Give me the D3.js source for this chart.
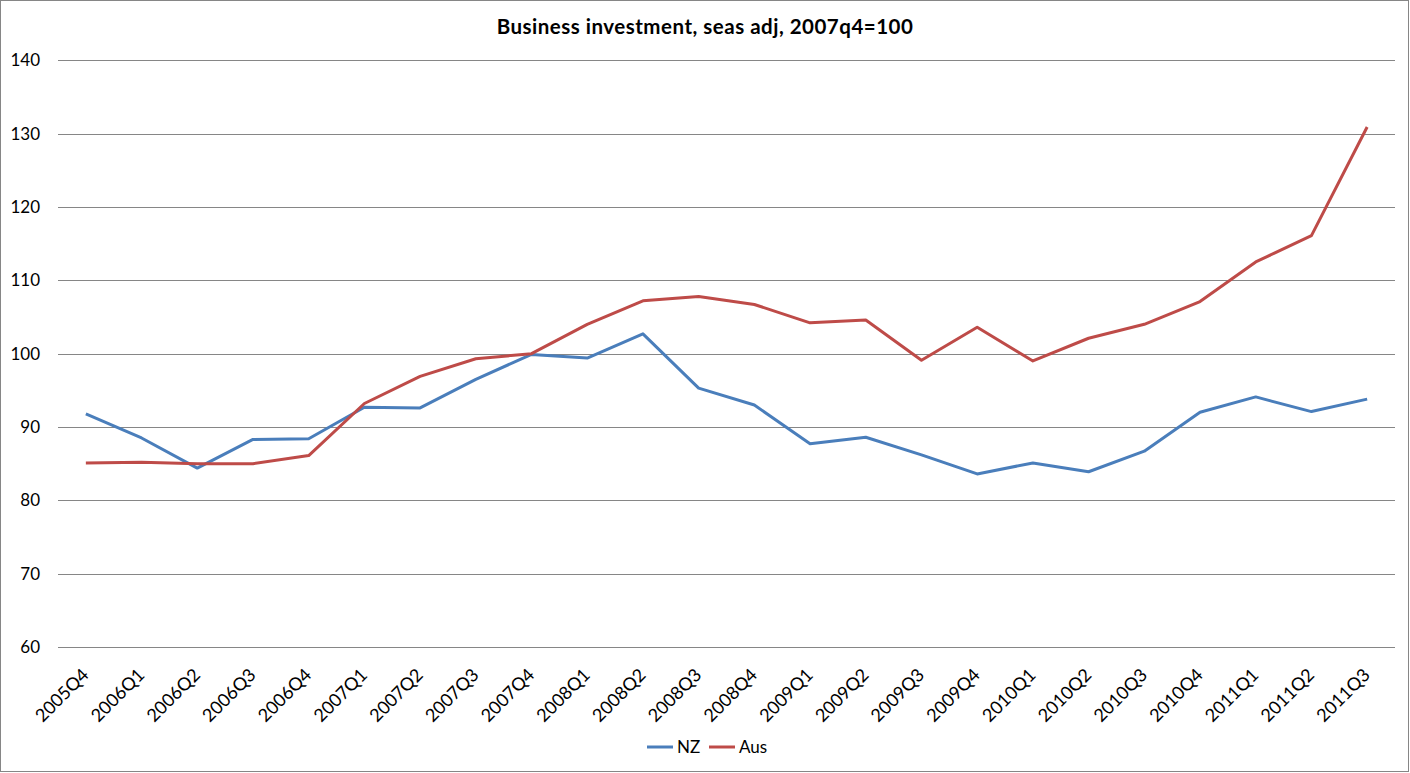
<!DOCTYPE html>
<html><head><meta charset="utf-8">
<script src="https://cdn.jsdelivr.net/npm/d3@7"></script>
<style>body{margin:0;background:#fff;}svg{display:block;font-family:Lato,"Open Sans",sans-serif;}</style>
</head><body><svg id="c" width="1410" height="773"></svg>
<script>
const categories = ["2005Q4","2006Q1","2006Q2","2006Q3","2006Q4","2007Q1","2007Q2","2007Q3","2007Q4","2008Q1","2008Q2","2008Q3","2008Q4","2009Q1","2009Q2","2009Q3","2009Q4","2010Q1","2010Q2","2010Q3","2010Q4","2011Q1","2011Q2","2011Q3"];
const nzValues = [91.8,88.5,84.4,88.3,88.4,92.7,92.6,96.5,99.9,99.4,102.7,95.3,93.0,87.7,88.6,86.2,83.6,85.1,83.9,86.7,92.0,94.1,92.1,93.8];
const ausValues = [85.1,85.2,85.0,85.0,86.1,93.2,96.9,99.3,100,104.0,107.2,107.8,106.7,104.2,104.6,99.1,103.6,99.0,102.1,104.0,107.1,112.5,116.1,130.9];
const yTicks = [60,70,80,90,100,110,120,130,140];
const seriesNames = ["NZ","Aus"];
const seriesColors = ["#4A7EBB","#BE4B48"];

const svg = d3.select("#c");
const L = 58, R = 1395, T = 60.3, B = 647;
const x = d3.scaleBand().domain(categories).range([L, R]);
const y = d3.scaleLinear().domain([60, 140]).range([B, T]);

svg.append("rect").attr("x",0.5).attr("y",0.5).attr("width",1408).attr("height",771)
  .attr("fill","#fff").attr("stroke","#868686").attr("stroke-width",1);

svg.append("text").attr("x",705).attr("y",34).attr("text-anchor","middle")
  .attr("font-size",20.5).attr("font-weight","bold").attr("letter-spacing",0.5).attr("fill","#000")
  .text("Business investment, seas adj, 2007q4=100");

// gridlines + y axis
const yAxis = d3.axisLeft(y).tickValues(yTicks).tickSize(-(R-L)).tickPadding(18).tickFormat(d3.format("d"));
const gy = svg.append("g").attr("transform",`translate(${L},0)`).call(yAxis);
gy.select(".domain").remove();
gy.selectAll(".tick line").attr("stroke","#868686").attr("stroke-width",1).attr("shape-rendering","crispEdges");
gy.selectAll(".tick text").attr("font-size",17).attr("fill","#000").attr("font-family","Lato, sans-serif");

// x axis
const xAxis = d3.axisBottom(x).tickSize(0).tickPadding(0);
const gx = svg.append("g").attr("transform",`translate(0,${B})`).call(xAxis);
gx.select(".domain").remove();
gx.selectAll(".tick text").attr("font-size",18).attr("fill","#000").attr("font-family","Lato, sans-serif")
  .attr("text-anchor","end").attr("dy",null).attr("y",null)
  .attr("transform","translate(4,29) rotate(-45)");

const line = d3.line().x((d,i)=>x(categories[i])+x.bandwidth()/2).y(d=>y(d));
[nzValues, ausValues].forEach((vals,k)=>{
  svg.append("path").datum(vals).attr("d",line).attr("fill","none")
    .attr("stroke",seriesColors[k]).attr("stroke-width",3).attr("stroke-linejoin","round");
});

// legend
const lg = svg.append("g");
const legendX = [647, 709];
seriesNames.forEach((n,k)=>{
  lg.append("line").attr("x1",legendX[k]).attr("x2",legendX[k]+26).attr("y1",747).attr("y2",747)
    .attr("stroke",seriesColors[k]).attr("stroke-width",3);
  lg.append("text").attr("x",legendX[k]+30).attr("y",753).attr("font-size",17).attr("fill","#000").text(n);
});
</script></body></html>
